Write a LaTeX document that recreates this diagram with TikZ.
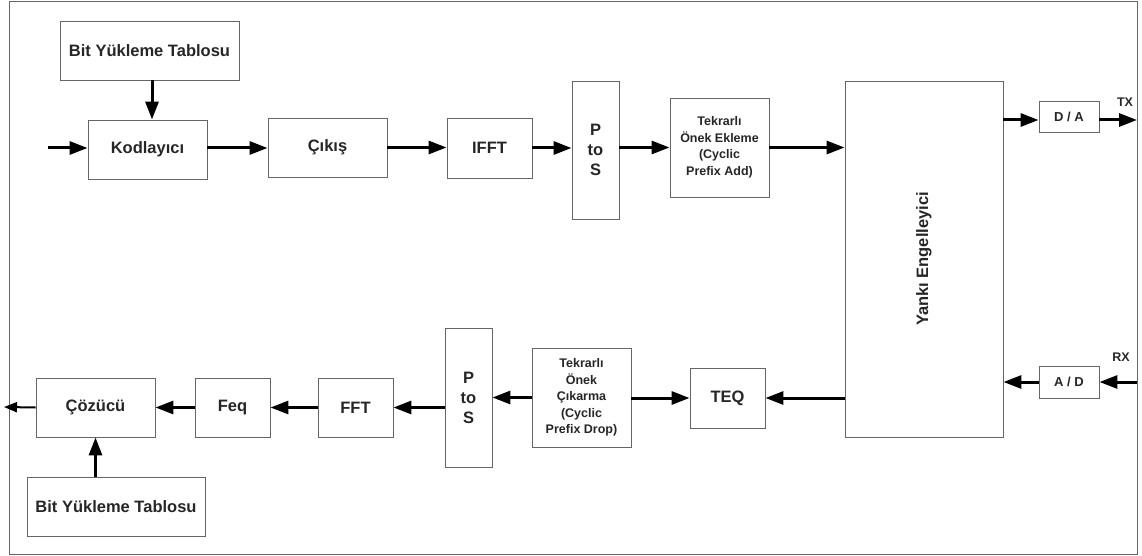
\documentclass[tikz,border=0pt]{standalone}
\usepackage{fontspec}
\setmainfont{Liberation Sans}
\usetikzlibrary{arrows.meta}

\begin{document}
\begin{tikzpicture}[x=1pt,y=-1pt,
  blok/.style={draw=black!60, line width=0.9pt, fill=white, inner sep=0pt,
    align=center, text=black!85, font=\fontsize{16.5}{20}\selectfont\bfseries},
  kucuk/.style={font=\fontsize{12.5}{16.5}\selectfont\bfseries},
  ok/.style={line width=3pt, -{Triangle[length=18pt,width=13pt]}},
  etiket/.style={text=black!85, font=\fontsize{12.5}{15}\selectfont\bfseries}]
\useasboundingbox (0,0) rectangle (1142,556);

% Frame
\draw[black!60, line width=0.9pt] (9,1) rectangle (1137,554);

% Transmitter row
\node[blok, minimum width=179pt, minimum height=59pt] (bitUst) at (149.5,50.5) {Bit Yükleme Tablosu};
\node[blok, minimum width=119pt, minimum height=59pt] (kod) at (147.5,149.5) {Kodlayıcı};
\node[blok, minimum width=119pt, minimum height=59pt] (cikis) at (327.5,147.5) {Çıkış};
\node[blok, minimum width=85pt, minimum height=60pt] (ifft) at (489.5,148) {IFFT};
\node[blok, minimum width=47pt, minimum height=138pt] (ptsUst) at (595.5,150) {P\\to\\S};
\node[blok, kucuk, minimum width=99pt, minimum height=99pt] (cpa) at (719.5,147.5) {Tekrarlı\\Önek Ekleme\\(Cyclic\\Prefix Add)};

% Echo canceller and converters
\node[blok, minimum width=158pt, minimum height=356pt] (yanki) at (924,259) {\rotatebox{90}{Yankı Engelleyici}};
\node[blok, minimum width=60pt, minimum height=31pt, font=\fontsize{13}{15}\selectfont\bfseries] (da) at (1069,117) {D / A};
\node[blok, minimum width=60pt, minimum height=32pt, font=\fontsize{13}{15}\selectfont\bfseries] (ad) at (1069,382) {A / D};
\coordinate (tx) at (1137,120);
\coordinate (rx) at (1137,382);
\node[etiket] (txl) at (1125,102) {TX};
\node[etiket] (rxl) at (1121,357) {RX};

% Receiver row
\node[blok, minimum width=75pt, minimum height=60pt] (teq) at (727.5,398) {TEQ};
\node[blok, kucuk, minimum width=99pt, minimum height=99pt] (cpd) at (581.5,397.5) {Tekrarlı\\Önek\\Çıkarma\\(Cyclic\\Prefix Drop)};
\node[blok, minimum width=47pt, minimum height=139pt] (ptsAlt) at (468.5,397.5) {P\\to\\S};
\node[blok, minimum width=75pt, minimum height=59pt] (fft) at (355.5,407.5) {FFT};
\node[blok, minimum width=75pt, minimum height=59pt] (feq) at (232.5,407.5) {Feq};
\node[blok, minimum width=119pt, minimum height=59pt] (coz) at (95.5,407.5) {Çözücü};
\node[blok, minimum width=178pt, minimum height=59pt] (bitAlt) at (116,506.5) {Bit Yükleme Tablosu};

% Connectors
\coordinate (giris) at (48,148);
\coordinate (cikisUc) at (4,407);
\draw[ok] (giris) -- (giris -| kod.west);
\draw[ok] (bitUst.south -| 152,0) -- (kod.north -| 152,0);
\draw[ok] (kod.east |- giris) -- (cikis.west |- giris);
\draw[ok] (cikis.east) -- (cikis.east -| ifft.west);
\draw[ok] (ifft.east) -- (ifft.east -| ptsUst.west);
\draw[ok] (ptsUst.east |- cpa) -- (cpa.west);
\draw[ok] (cpa.east) -- (cpa.east -| yanki.west);
\draw[ok] (yanki.east |- tx) -- (da.west |- tx);
\draw[ok] (da.east |- tx) -- (tx);
\draw[ok] (rx) -- (ad.east);
\draw[ok] (ad.west) -- (ad.west -| yanki.east);
\draw[ok] (yanki.west |- teq) -- (teq.east);
\draw[ok] (cpd.east |- teq) -- (teq.west);
\draw[ok] (cpd.west) -- (cpd.west -| ptsAlt.east);
\draw[ok] (ptsAlt.west |- fft) -- (fft.east);
\draw[ok] (fft.west) -- (feq.east);
\draw[ok] (feq.west) -- (coz.east);
\draw[ok, line width=2pt, -{Triangle[length=13pt,width=10pt]}] (coz.west) -- (cikisUc);
\draw[ok] (bitAlt.north -| coz) -- (coz.south);
\end{tikzpicture}
\end{document}
